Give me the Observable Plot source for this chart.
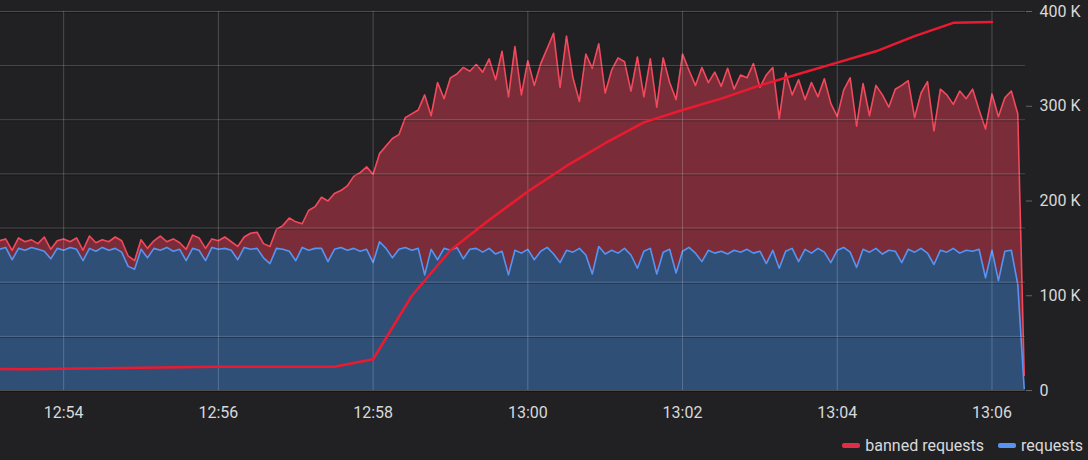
<!DOCTYPE html>
<html><head><meta charset="utf-8">
<script src="https://cdn.jsdelivr.net/npm/d3@7"></script>
<script src="https://cdn.jsdelivr.net/npm/@observablehq/plot@0.6"></script>
<style>
html,body{margin:0;padding:0;background:#212124;}
body{width:1088px;height:460px;overflow:hidden;font-family:Roboto, sans-serif;}
#legend{display:flex;justify-content:flex-end;align-items:center;height:30px;padding-right:5px;color:#d8d9da;font-size:16px;}
.item{display:flex;align-items:center;margin-left:14px}
.sw{width:18px;height:5px;border-radius:2px;margin-right:5px}
</style></head><body>
<div id="chart"></div><div id="legend"></div>
<script>
// sample times: start + step (seconds)
const sampleStart = "12:53:10";
const sampleStepSec = 5;

// top of red stacked area (requests + banned), in K
const redTop = [
158,160,148,161,157,159,155,162,149,158,
160,157,161,148,163,156,159,157,162,158,
142,137,159,150,158,163,157,160,156,149,
164,161,150,160,158,162,157,152,162,166,
167,155,152,170,174,182,178,176,190,194,
204,200,208,211,216,226,230,236,228,250,
258,266,270,288,292,296,312,290,325,308,
330,334,341,337,344,336,350,328,358,310,
363,312,348,322,345,361,377,320,374,330,
305,355,340,366,314,338,351,347,316,352,
310,350,299,351,325,307,355,338,322,341,
325,336,321,340,318,333,330,345,320,333,
341,287,335,312,328,307,325,310,329,303,
289,317,330,279,324,290,322,312,299,318,
322,327,288,314,326,274,318,312,302,316,
308,318,296,276,313,289,309,316,292,16
];

// requests (blue), in K
const requests = [
149,151,138,150,148,151,149,147,139,150,
148,151,149,137,150,147,151,148,150,146,
131,128,149,140,150,148,151,147,149,137,
150,148,137,151,149,150,148,138,151,149,
150,140,134,150,149,147,137,151,148,150,
150,136,149,151,148,150,147,149,135,157,
150,140,149,151,148,150,122,149,138,150,
148,151,139,149,150,146,150,144,147,122,
148,145,149,138,147,151,144,135,148,146,
150,143,123,152,144,148,145,150,143,129,
147,150,123,146,149,124,147,151,145,136,
148,145,147,144,148,146,149,145,147,134,
148,129,147,150,136,149,145,150,146,135,
148,151,146,130,149,146,150,144,148,147,
135,149,146,150,145,133,148,146,150,145,
148,147,149,119,148,116,147,148,112,2
];

// banned requests (cumulative line), in K
const bannedTimes = ["12:53:00","12:53:30","12:54:00","12:54:30","12:55:00","12:55:30","12:56:00","12:56:30","12:57:00","12:57:30","12:58:00","12:58:30","12:59:00","12:59:30","13:00:00","13:00:30","13:01:00","13:01:30","13:02:00","13:02:30","13:03:00","13:03:30","13:04:00","13:04:30","13:05:00","13:05:30","13:06:00"];
const bannedValues = [23,22.5,23,23.5,24,24.5,25,25,25,25,33,100,148,180,210,237,261,283,296,308,322,334,346,358,374,388,389];

const xTickLabels = ["12:54","12:56","12:58","13:00","13:02","13:04","13:06"];
const yTicks = [0,100,200,300,400];
const xDomain = ["12:53:11","13:06:26"];
const gridSteps = 7;

const seriesNames = ["banned requests","requests"];
const seriesColors = ["#e02f44","#5794f2"];

function t(hms){const p=hms.split(":").map(Number);return new Date(Date.UTC(2020,0,1,p[0],p[1],p[2]||0));}
const t0 = t(sampleStart).getTime();
const rows = redTop.map((r,i)=>({t:new Date(t0+i*sampleStepSec*1000), red:r, blue:requests[i]}));
const banned = bannedTimes.map((s,i)=>({t:t(s), v:bannedValues[i]}));
const xTicks = xTickLabels.map(t);
const gridVals = d3.range(gridSteps+1).map(k=>400*k/gridSteps);

const chart = Plot.plot({
  width:1088, height:430, marginTop:11, marginBottom:40, marginLeft:0, marginRight:63,
  style:{background:"#212124", color:"#d8d9da", fontFamily:"Roboto, sans-serif", fontSize:"16px"},
  x:{type:"utc", domain:xDomain.map(t)},
  y:{domain:[0,400]},
  marks:[
    Plot.areaY(rows,{x:"t", y:"red", fill:"#7a2d38", curve:"linear"}),
    Plot.areaY(rows,{x:"t", y:"blue", fill:"#2f4f77", curve:"linear"}),
    Plot.lineY(rows,{x:"t", y:"red", stroke:"#f2495c", strokeWidth:1.6, curve:"linear"}),
    Plot.lineY(rows,{x:"t", y:"blue", stroke:"#5794f2", strokeWidth:1.6, curve:"linear"}),
    Plot.ruleY(gridVals,{stroke:"#000", strokeOpacity:0.35, dy:1}),
    Plot.ruleY(gridVals,{stroke:"#fff", strokeOpacity:0.2}),
    Plot.ruleX(xTicks,{y1:0, y2:400, stroke:"#fff", strokeOpacity:0.2}),
    Plot.lineY(banned,{x:"t", y:"v", stroke:"#ec1a30", strokeWidth:2.5, clip:true}),
    Plot.axisX({ticks:xTicks, tickFormat:d3.utcFormat("%H:%M"), tickSize:0, tickPadding:16, label:null, fill:"#d8d9da"}),
    Plot.axisY({anchor:"right", ticks:yTicks, tickFormat:d=>d===0?"0":d+" K", tickSize:6, tickPadding:8, label:null, stroke:"#666", fill:"#d8d9da"})
  ]
});
document.getElementById("chart").appendChild(chart);

const lg = document.getElementById("legend");
seriesNames.forEach((n,i)=>{
  const it=document.createElement("div");it.className="item";
  const sw=document.createElement("span");sw.className="sw";sw.style.background=seriesColors[i];
  const tx=document.createElement("span");tx.textContent=n;
  it.appendChild(sw);it.appendChild(tx);lg.appendChild(it);
});
</script></body></html>
